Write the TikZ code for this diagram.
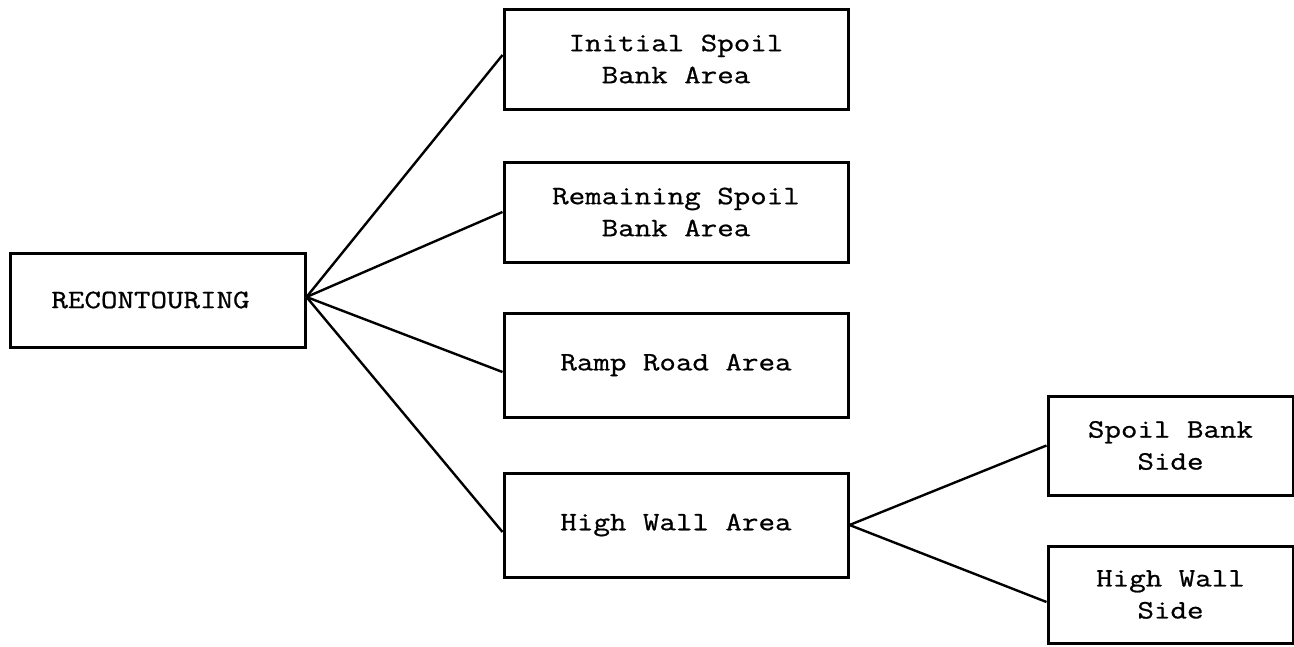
\documentclass[tikz,border=0pt]{standalone}
\usepackage{fontspec}
\newfontfamily\tw[FakeStretch=1.21,FakeBold=0.8]{Latin Modern Mono}
\begin{document}
\begin{tikzpicture}[x=1pt,y=-1pt,
  box/.style={draw=black, line width=3pt, inner sep=0pt, align=center,
    font=\tw\fontsize{26.5}{32}\selectfont},
  conn/.style={draw=black, line width=2.4pt}]
\useasboundingbox (0,0) rectangle (1294,646);
\fill[white] (0,0) rectangle (1294,646);
\node[box, minimum width=295pt, minimum height=94pt] (rec) at (157.5,300) {RECONTOURING\hspace*{14pt}};
\node[box, minimum width=344pt, minimum height=100pt] (init) at (676,59) {Initial Spoil\\Bank Area};
\node[box, minimum width=344pt, minimum height=100pt] (rem) at (676,212) {Remaining Spoil\\Bank Area};
\node[box, minimum width=344pt, minimum height=104pt] (ramp) at (676,365) {Ramp Road Area};
\node[box, minimum width=344pt, minimum height=104pt] (hwa) at (676,525) {High Wall Area};
\node[box, minimum width=245pt, minimum height=99pt] (sbs) at (1170.5,445.5) {Spoil Bank\\Side};
\node[box, minimum width=245pt, minimum height=97pt] (hws) at (1170.5,594.5) {High Wall\\Side};
\coordinate (hub) at ([yshift=3pt]rec.east);
\draw[conn] (hub) -- ([yshift=4pt]init.west);
\draw[conn] (hub) -- (rem.west);
\draw[conn] (hub) -- ([yshift=-7pt]ramp.west);
\draw[conn] (hub) -- ([yshift=-7pt]hwa.west);
\draw[conn] (hwa.east) -- (sbs.west);
\draw[conn] (hwa.east) -- ([yshift=-7.5pt]hws.west);
\end{tikzpicture}
\end{document}
